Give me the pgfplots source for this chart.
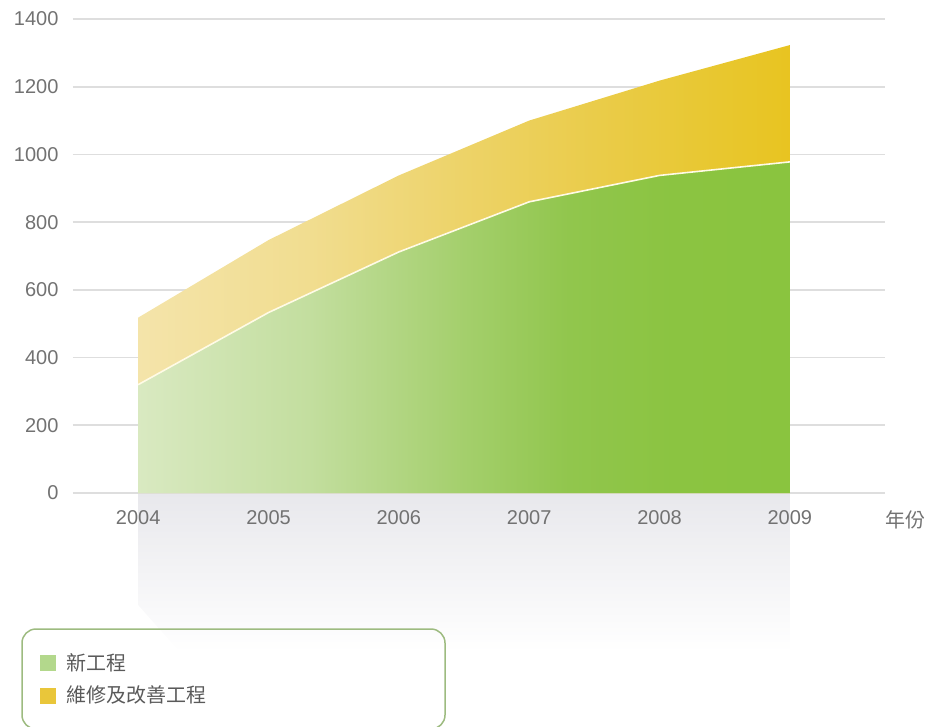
\documentclass[border=0pt]{standalone}
\usepackage{pgfplots}
\pgfplotsset{compat=1.18}
\usepackage{pgfplotstable}
\usepackage{fontspec}
\setmainfont{Liberation Sans}
\newfontfamily\cjk{Noto Sans CJK TC}
\definecolor{tickc}{HTML}{727272}
\definecolor{gridc}{HTML}{DEDEDE}
\definecolor{legc}{HTML}{9DBB80}
\definecolor{legtext}{HTML}{5A5A5A}
\definecolor{refl}{HTML}{E8E8EC}
\definecolor{legG}{HTML}{B3D88C}
\definecolor{legY}{HTML}{E9C63A}
\pgfdeclarehorizontalshading{greenshade}{100bp}{%
  rgb(0bp)=(0.850,0.914,0.757);
  rgb(25bp)=(0.850,0.914,0.757);
  rgb(38bp)=(0.765,0.871,0.624);
  rgb(50bp)=(0.643,0.812,0.424);
  rgb(58bp)=(0.569,0.776,0.302);
  rgb(66bp)=(0.545,0.769,0.255);
  rgb(75bp)=(0.541,0.769,0.247);
  rgb(100bp)=(0.541,0.769,0.247)}
\pgfdeclarehorizontalshading{yellowshade}{100bp}{%
  rgb(0bp)=(0.957,0.894,0.667);
  rgb(25bp)=(0.957,0.894,0.667);
  rgb(38bp)=(0.945,0.867,0.565);
  rgb(50bp)=(0.929,0.827,0.408);
  rgb(60bp)=(0.918,0.800,0.290);
  rgb(68bp)=(0.910,0.784,0.200);
  rgb(75bp)=(0.910,0.769,0.129);
  rgb(100bp)=(0.910,0.769,0.129)}
\pgfplotstableread{
year new repair
2004 320 198
2005 533 214
2006 712 226
2007 860 240
2008 938 280
2009 978 345
}\datatable
\pgfplotsset{myframe/.style={
  at={(73pt,233pt)}, anchor=south west,
  scale only axis, width=812pt, height=474pt,
  xmin=2003.5, xmax=2009.73, ymin=0, ymax=1400,
  clip=false}}
\begin{document}
\begin{tikzpicture}[x=1pt,y=1pt]
\useasboundingbox (0,0) rectangle (928,726);
% background axis: reflection below the baseline
\begin{axis}[myframe, hide axis]
\shade[top color=refl, bottom color=white]
  (axis cs:2004,0) -- (axis cs:2009,0) -- (axis cs:2009,-470)
  -- (axis cs:2004.32,-470) -- (axis cs:2004,-331) -- cycle;
\end{axis}
\begin{axis}[
  myframe,
  axis line style={draw=none},
  major tick length=0pt,
  ytick={0,200,...,1400},
  xtick={2004,2005,2006,2007,2008,2009},
  ymajorgrids, grid style={draw=gridc, line width=1.6pt},
  tick label style={font=\fontsize{20}{24}\selectfont, text=tickc},
  /pgf/number format/1000 sep={},
  /pgf/number format/assume math mode=true,
  yticklabel style={xshift=-11pt},
  xticklabel style={yshift=-14pt},
  legend style={at={(axis description cs:-0.0414,-0.3342)}, anchor=north west,
    draw=none, fill=none, inner sep=0pt, row sep=10pt,
    font=\cjk\fontsize{20}{24}\selectfont, text=legtext,
    /tikz/every odd column/.append style={column sep=10pt}},
  legend cell align=left,
  legend image code/.code={\fill[#1] (0pt,-7.5pt) rectangle (15pt,7.5pt);},
]
% total (yellow) area
\addplot[forget plot, draw=none, shading=yellowshade]
  table[x=year, y expr=\thisrow{new}+\thisrow{repair}] {\datatable} \closedcycle;
% new works (green) area
\addplot[forget plot, draw=none, shading=greenshade]
  table[x=year, y=new] {\datatable} \closedcycle;
\addplot[forget plot, draw={rgb,255:red,255;green,251;blue,230}, line width=1.6pt]
  table[x=year, y=new] {\datatable};
\addlegendimage{legend image code/.code={\fill[legG] (0pt,-7.5pt) rectangle (15pt,7.5pt);}}
\addlegendentry{新工程}
\addlegendimage{legend image code/.code={\fill[legY] (0pt,-7.5pt) rectangle (15pt,7.5pt);}}
\addlegendentry{維修及改善工程}
\end{axis}
\node[font=\cjk\fontsize{20}{24}\selectfont, text=tickc] at (905,206) {年份};
\draw[legc, line width=1.5pt, rounded corners=14pt] (22,-3) rectangle (445,97);
\end{tikzpicture}
\end{document}
